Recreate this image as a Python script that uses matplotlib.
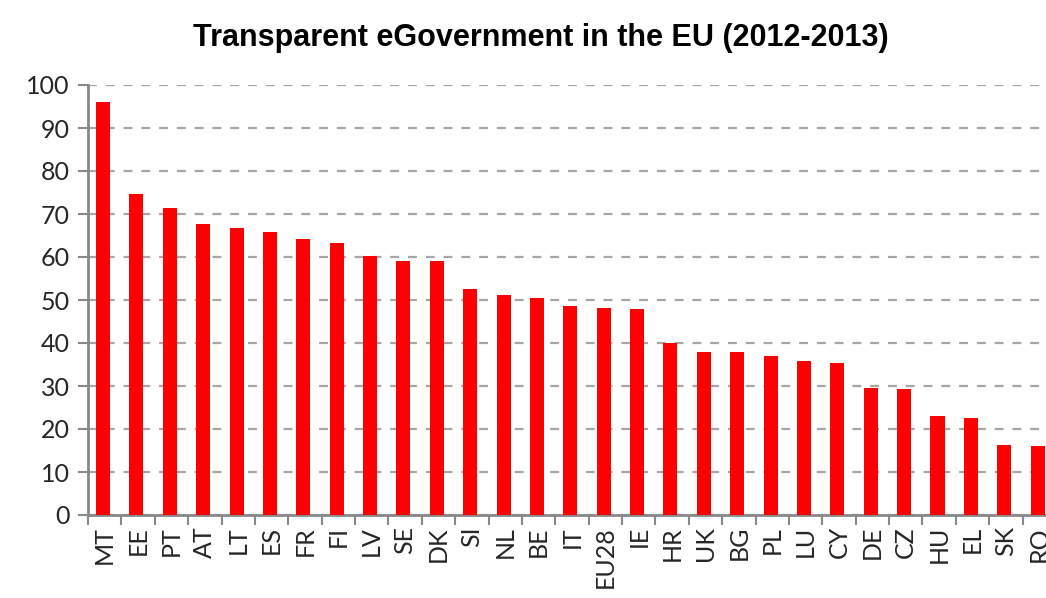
import numpy as np
import matplotlib
matplotlib.use("Agg")
import matplotlib.pyplot as plt

# countries, sorted as in the source chart
countries = ["MT", "EE", "PT", "AT", "LT", "ES", "FR", "FI", "LV", "SE",
             "DK", "SI", "NL", "BE", "IT", "EU28", "IE", "HR", "UK", "BG",
             "PL", "LU", "CY", "DE", "CZ", "HU", "EL", "SK", "RO"]
scores = [96.0, 74.7, 71.4, 67.7, 66.7, 65.8, 64.2, 63.3, 60.2, 59.0,
          59.0, 52.6, 51.2, 50.5, 48.5, 48.2, 47.9, 40.0, 37.9, 37.9,
          37.0, 35.8, 35.3, 29.5, 29.3, 23.0, 22.5, 16.3, 16.0]
yticks = [0, 10, 20, 30, 40, 50, 60, 70, 80, 90, 100]

fig = plt.figure(figsize=(10.46, 5.98), dpi=100)
# the source picture is cut off on the right, so the axes run past the edge
ax = fig.add_axes([88 / 1046, 1 - 515 / 598, 968 / 1046, 430 / 598])

x = np.arange(len(countries))
ax.bar(x - 0.05, scores, width=0.42, color="#ff0000", zorder=3)

ax.set_xlim(-0.5, len(countries) - 0.5)
ax.set_ylim(0, 100)
ax.set_yticks(yticks)
ax.set_yticklabels([str(v) for v in yticks], fontsize=18, family="Lato", color="#262626")
ax.set_xticks(x)
ax.set_xticklabels(countries, rotation=90, fontsize=18, family="Lato", color="#262626")
ax.set_xticks(np.arange(len(countries) + 1) - 0.5, minor=True)

ax.tick_params(axis="x", which="major", length=0, pad=8)
ax.tick_params(axis="x", which="minor", length=7, width=1.5, color="#888888")
ax.tick_params(axis="y", length=7, width=1.5, color="#888888", pad=6)

ax.yaxis.grid(True, linestyle=(0, (4, 4)), color="#a6a6a6", linewidth=1.6, zorder=0)
for s in ["top", "right"]:
    ax.spines[s].set_visible(False)
for s in ["left", "bottom"]:
    ax.spines[s].set_color("#888888")
    ax.spines[s].set_linewidth(2)

fig.text(541 / 1046, 1 - 38 / 598, "Transparent eGovernment in the EU (2012-2013)",
         ha="center", va="center", fontsize=22, fontweight="bold", family="Liberation Sans")

fig.savefig("out.png", dpi=100)
